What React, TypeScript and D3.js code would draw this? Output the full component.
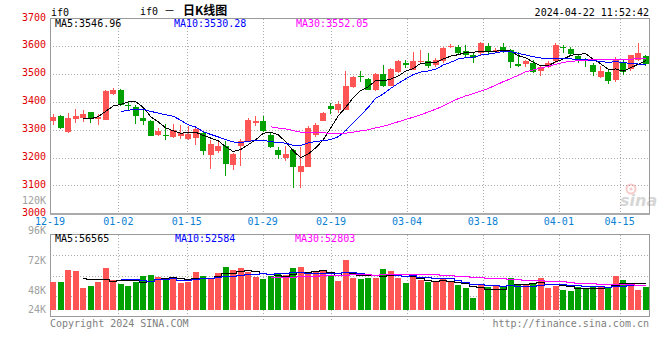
import React from 'react';
import * as d3 from 'd3';

const dates = [
  '12-19','12-20','12-21','12-22','12-25','12-26','12-27','12-28','12-29',
  '01-02','01-03','01-04','01-05','01-08','01-09','01-10','01-11','01-12','01-15','01-16',
  '01-17','01-18','01-19','01-22','01-23','01-24','01-25','01-26','01-29','01-30','01-31',
  '02-01','02-02','02-05','02-06','02-07','02-08','02-19','02-20','02-21','02-22','02-23',
  '02-26','02-27','02-28','02-29','03-01','03-04','03-05','03-06','03-07','03-08','03-11',
  '03-12','03-13','03-14','03-15','03-18','03-19','03-20','03-21','03-22','03-25','03-26',
  '03-27','03-28','03-29','04-01','04-02','04-03','04-08','04-09','04-10','04-11','04-12',
  '04-15','04-16','04-17','04-18','04-19'
];

const opens = [
  3330,3350,3292,3340,3342,3362,3338,3336,3428,3444,
  3389,3381,3342,3332,3282,3282,3274,3279,3268,3272,
  3290,3210,3222,3243,3174,3243,3258,3324,3330,3282,
  3228,3198,3228,3147,3168,3282,3332,3386,3372,3372,
  3452,3492,3483,3441,3501,3458,3506,3539,3516,3542,
  3548,3533,3545,3598,3598,3584,3570,3574,3600,3580,
  3598,3586,3537,3537,3539,3510,3525,3545,3597,3589,
  3565,3551,3534,3489,3507,3478,3539,3518,3552,3565
];
const highs = [
  3356,3354,3360,3375,3370,3363,3356,3444,3451,3446,
  3400,3388,3372,3336,3308,3321,3322,3318,3314,3308,
  3295,3264,3256,3258,3216,3268,3342,3348,3348,3291,
  3238,3240,3231,3238,3312,3324,3363,3396,3402,3510,
  3492,3510,3486,3503,3533,3521,3551,3549,3580,3586,
  3575,3556,3596,3608,3604,3604,3578,3614,3610,3592,
  3612,3590,3580,3551,3551,3530,3545,3612,3604,3598,
  3572,3556,3540,3527,3515,3562,3555,3570,3612,3570
];
const lows = [
  3316,3304,3290,3324,3329,3324,3316,3335,3423,3384,
  3366,3322,3316,3276,3276,3264,3271,3267,3262,3246,
  3208,3160,3215,3133,3156,3171,3255,3312,3292,3236,
  3195,3186,3091,3091,3166,3274,3330,3356,3360,3370,
  3450,3470,3441,3438,3453,3456,3503,3522,3513,3537,
  3522,3525,3540,3592,3569,3560,3540,3570,3571,3575,
  3577,3521,3525,3525,3503,3492,3521,3540,3575,3565,
  3541,3525,3492,3486,3465,3473,3498,3512,3545,3530
];
const closes = [
  3344,3306,3342,3350,3357,3341,3345,3438,3444,3388,
  3385,3351,3332,3279,3294,3278,3298,3290,3286,3302,
  3222,3250,3243,3178,3214,3261,3336,3330,3294,3237,
  3210,3214,3165,3171,3306,3318,3360,3374,3392,3458,
  3489,3489,3444,3501,3456,3519,3545,3531,3548,3548,
  3530,3551,3592,3600,3574,3569,3556,3612,3584,3588,
  3586,3542,3530,3545,3507,3525,3539,3604,3593,3572,
  3548,3546,3507,3510,3474,3553,3507,3568,3574,3537
];
// red (up) or green (down) as shown
const upFlags = [
  1,0,1,1,1,0,1,1,1,0, 0,0,0,0,1,0,1,1,1,1,
  0,1,1,0,1,1,1,1,0,0, 0,1,0,1,1,1,1,0,1,1,
  1,0,0,1,0,1,1,0,1,1, 0,1,1,1,0,0,0,1,0,1,
  0,0,0,1,0,1,1,1,0,0, 0,0,0,1,0,1,0,1,1,0
];
const volumes = [
  60200,60200,86500,84300,48200,52400,60200,90700,64500,56000,
  52400,60200,73000,75100,70900,69400,68000,58800,60900,81500,
  73000,65900,79400,92100,86500,90000,82200,70900,67300,72300,
  79400,74400,90000,92100,76500,82200,86500,72300,62300,107000,
  68700,66600,68700,68700,87900,83600,68700,58100,71600,64500,
  60200,59500,66600,60900,53800,48200,26200,53800,49600,51000,
  50300,68700,56000,56000,56000,68700,48200,52400,43200,41100,
  49600,46700,51700,51700,48900,73000,64500,57400,43200,50300
];

const tickDates = ['12-19','01-02','01-15','01-29','02-19','03-04','03-18','04-01','04-15'];
const priceTicks = [3700, 3600, 3500, 3400, 3300, 3200, 3100, 3000];
const volTicks = [120000, 96000, 72000, 48000, 24000];
const volTickText = ['120K', '96K', '72K', '48K', '24K'];
const priceMaText = ['MA5:3546.96', 'MA10:3530.28', 'MA30:3552.05'];
const volMaText = ['MA5:56565', 'MA10:52584', 'MA30:52803'];
const maPeriods = [5, 10, 30];
const maColors = ['#000000', '#0000ff', '#ff00ff'];

const RED = '#ff5555';
const GREEN = '#00a000';
const MONO = '"DejaVu Sans Mono", "Liberation Mono", monospace';

function movingAvg(arr: number[], n: number): (number | null)[] {
  return arr.map((_, i) => (i < n - 1 ? null : (d3.mean(arr.slice(i - n + 1, i + 1)) as number)));
}

export default function App() {
  const L = 50, Rt = 650;
  const idx = d3.range(dates.length);
  const xb = d3.scaleBand<number>().domain(idx).range([L, Rt]).paddingInner(0.24).paddingOuter(0.12).align(0.2);
  const bw = xb.bandwidth();
  const cx = (i: number) => (xb(i) as number) + bw / 2;
  const xg = d3.scaleLinear().domain([0, dates.length - 1]).range([L, Rt]);
  const y = d3.scaleLinear().domain([3000, 3700]).range([213.3, 18.3]);
  const yv = d3.scaleLinear().domain([0, 161700]).range([310.3, 234.3]);
  const yvLabel = d3.scaleLinear().domain([0, 120000]).range([353.7, 204.2]);
  const volTop = 234.5, volBot = 316.5;
  const volGrid = d3.range(1, 4).map(k => volTop + ((volBot - volTop) * k) / 4);

  const crisp = (v: number) => Math.round(v) + 0.5;

  const priceLine = d3.line<[number, number | null]>()
    .defined(d => d[1] != null)
    .x(d => cx(d[0]))
    .y(d => y(d[1] as number));
  const volLine = d3.line<[number, number | null]>()
    .defined(d => d[1] != null)
    .x(d => cx(d[0]))
    .y(d => Math.round(yv(d[1] as number)) + 0.5)
    .curve(d3.curveStep);

  const priceMAs = maPeriods.map(n => movingAvg(closes, n).map((v, i) => [i, v] as [number, number | null]));
  const volMAs = maPeriods.map(n => movingAvg(volumes, n).map((v, i) => [i, v] as [number, number | null]));

  const tickIdx = tickDates.map(t => dates.indexOf(t));

  return (
    <svg width={660} height={360} style={{ position: 'absolute', left: 0, top: 0, display: 'block' }}
      fontFamily={MONO}>
      <rect x={0} y={0} width={660} height={360} fill="#ffffff" />

      {/* header */}
      <text x={51} y={16} fontSize={10} fill="#000">if0</text>
      <text y={15} fontSize={10} fill="#000">
        <tspan x={140}>if0 </tspan>
        <tspan fontFamily='"Noto Sans CJK SC", sans-serif' fontSize={11}>－</tspan>
        <tspan x={183} fontFamily='"Noto Sans CJK SC", sans-serif' fontSize={12} fontWeight="bold">日K线图</tspan>
      </text>
      <text x={649} y={16} fontSize={10} fill="#000" textAnchor="end">2024-04-22 11:52:42</text>

      {/* price grid */}
      <g stroke="#aaaaaa" strokeDasharray="1,2" shapeRendering="crispEdges">
        {priceTicks.filter(t => t !== 3700 && t !== 3000).map(t => (
          <line key={t} x1={L} x2={Rt} y1={crisp(y(t))} y2={crisp(y(t))} />
        ))}
        {tickIdx.filter(i => i > 0).map(i => (
          <line key={i} x1={crisp(xg(i))} x2={crisp(xg(i))} y1={18.5} y2={213.5} />
        ))}
      </g>
      <rect x={50.5} y={18.5} width={599} height={195} fill="none" stroke="#999" shapeRendering="crispEdges" />
      <line x1={50} x2={650} y1={214} y2={214} stroke="#aaa" strokeWidth={2} shapeRendering="crispEdges" />

      {/* price axis labels */}
      {priceTicks.map(t => (
        <text key={t} x={46} y={y(t) + 2.2} fontSize={10} fill="#e00000" textAnchor="end">{t}</text>
      ))}
      {volTicks.map((v, k) => (
        <text key={v} x={46} y={Math.min(yvLabel(v), 313.3)} fontSize={10} fill="#a0a0a0" textAnchor="end">{volTickText[k]}</text>
      ))}

      {/* date labels */}
      {tickIdx.map((i, k) => (
        <text key={i} x={xg(i)} y={224.5} fontSize={10} fill="#0a7fd4" textAnchor="middle">{tickDates[k]}</text>
      ))}

      {/* watermark */}
      <g opacity={0.4}>
        <circle cx={631} cy={189} r={4.5} fill="none" stroke="#f08080" strokeWidth={2} />
        <circle cx={631} cy={189} r={1.5} fill="#f08080" />
        <text x={620} y={206} fontSize={16} fontStyle="italic" fontWeight="bold" fill="#9a9a9a"
          fontFamily='"DejaVu Sans", sans-serif'>sina</text>
      </g>

      {/* candles */}
      {idx.map(i => {
        const up = upFlags[i] === 1;
        const col = up ? RED : GREEN;
        const top = y(Math.max(opens[i], closes[i]));
        const bot = y(Math.min(opens[i], closes[i]));
        const wx = Math.floor(cx(i)) + 0.5;
        return (
          <g key={i} shapeRendering="crispEdges">
            <line x1={wx} x2={wx} y1={y(highs[i])} y2={y(lows[i])} stroke={col} />
            <rect x={xb(i) as number} y={top} width={bw} height={Math.max(1, bot - top)} fill={col} />
          </g>
        );
      })}

      {/* price MA lines */}
      {priceMAs.map((d, k) => (
        <path key={k} d={priceLine(d) || ''} fill="none" stroke={maColors[k]} strokeWidth={1} shapeRendering="crispEdges" />
      ))}

      {/* price MA texts */}
      {priceMaText.map((t, k) => (
        <text key={t} x={[55, 174, 296][k]} y={27.3} fontSize={10} fill={maColors[k]}>{t}</text>
      ))}

      {/* volume grid */}
      <g stroke="#aaaaaa" strokeDasharray="1,2" shapeRendering="crispEdges">
        {volGrid.map(g => (
          <line key={g} x1={L} x2={Rt} y1={crisp(g)} y2={crisp(g)} />
        ))}
        {tickIdx.filter(i => i > 0).map(i => (
          <line key={i} x1={crisp(xg(i))} x2={crisp(xg(i))} y1={volTop} y2={volBot + 4} />
        ))}
      </g>
      <rect x={50.5} y={volTop} width={599} height={volBot - volTop} fill="none" stroke="#999" shapeRendering="crispEdges" />

      {/* volume bars */}
      {idx.map(i => (
        <rect key={i} x={xb(i) as number} y={yv(volumes[i])} width={bw} height={yv(0) - yv(volumes[i])}
          fill={upFlags[i] === 1 ? RED : GREEN} shapeRendering="crispEdges" />
      ))}

      {/* volume MA lines */}
      {volMAs.map((d, k) => (
        <path key={k} d={volLine(d) || ''} fill="none" stroke={maColors[k]} strokeWidth={1} shapeRendering="crispEdges" />
      ))}

      {volMaText.map((t, k) => (
        <text key={t} x={[55, 175, 295][k]} y={242.3} fontSize={10} fill={maColors[k]}>{t}</text>
      ))}

      {/* footer */}
      <text x={50} y={327} fontSize={10} fill="#808080">Copyright 2024 SINA.COM</text>
      <text x={649} y={327} fontSize={10} fill="#808080" textAnchor="end">http://finance.sina.com.cn</text>
    </svg>
  );
}
